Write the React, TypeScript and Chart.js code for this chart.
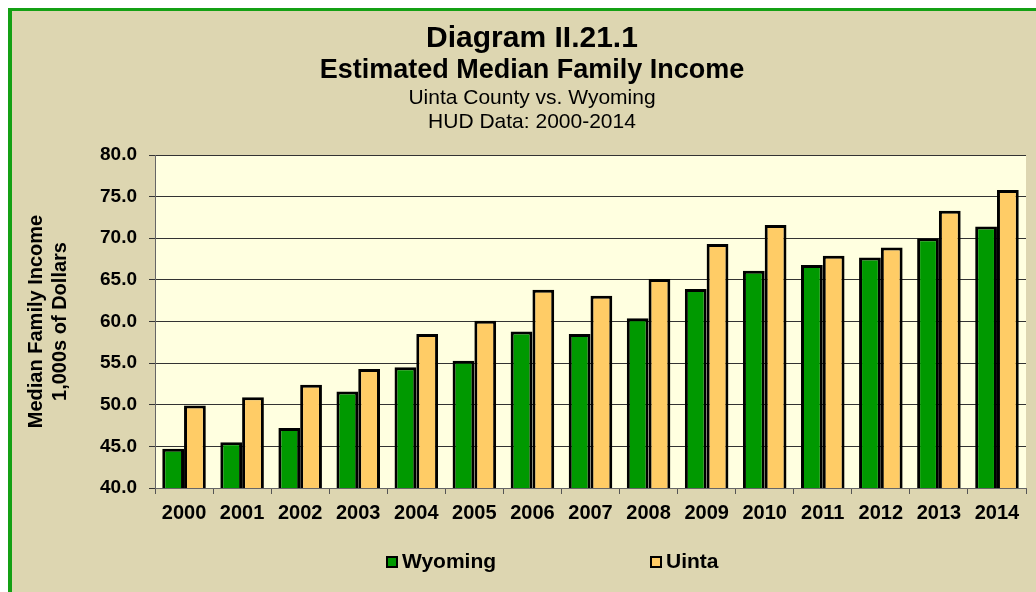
import React, { useEffect, useRef } from 'react';
import { Chart, registerables } from 'chart.js';

Chart.register(...registerables);

const years = ['2000', '2001', '2002', '2003', '2004', '2005', '2006', '2007', '2008', '2009', '2010', '2011', '2012', '2013', '2014'];
const wyoming = [44.7, 45.5, 47.2, 51.6, 54.5, 55.3, 58.8, 58.5, 60.4, 63.9, 66.1, 66.8, 67.7, 70.0, 71.4];
const uinta = [49.9, 50.9, 52.4, 54.3, 58.5, 60.1, 63.8, 63.1, 65.1, 69.3, 71.6, 67.9, 68.9, 73.3, 75.8];
const yMin = 40;
const yMax = 80;
const yStep = 5;
const titleMain = 'Diagram II.21.1';
const titleSub = 'Estimated Median Family Income';
const subLines = ['Uinta County vs. Wyoming', 'HUD Data: 2000-2014'];
const yTitle = ['Median Family Income', '1,000s of Dollars'];

const FONT = "'Liberation Sans', Arial, Helvetica, sans-serif";

const decor = {
  id: 'decor',
  beforeDraw(chart: any) {
    const { ctx, chartArea: a } = chart;
    ctx.save();
    ctx.fillStyle = '#FFFFE0';
    ctx.fillRect(a.left, a.top, a.right - a.left, a.bottom - a.top);
    ctx.restore();
  },
  afterDraw(chart: any) {
    const { ctx } = chart;
    const cx = 520;
    ctx.save();
    ctx.fillStyle = '#000';
    ctx.textAlign = 'center';
    ctx.textBaseline = 'alphabetic';
    ctx.font = `bold 30px ${FONT}`;
    ctx.fillText(titleMain, cx, 36);
    ctx.font = `bold 27px ${FONT}`;
    ctx.fillText(titleSub, cx, 67);
    ctx.font = `21px ${FONT}`;
    ctx.fillText(subLines[0], cx, 93);
    ctx.fillText(subLines[1], cx, 117);

    // legend
    const xs = [374, 638];
    ctx.textAlign = 'left';
    ctx.font = `bold 21px ${FONT}`;
    chart.data.datasets.forEach((ds: any, i: number) => {
      const x = xs[i];
      const y = 545;
      ctx.fillStyle = ds.backgroundColor;
      ctx.fillRect(x, y, 12, 12);
      ctx.strokeStyle = '#000';
      ctx.lineWidth = 2;
      ctx.strokeRect(x + 1, y + 1, 10, 10);
      ctx.fillStyle = '#000';
      ctx.fillText(ds.label, x + 16, 557);
    });
    ctx.restore();
  },
};

export default function App() {
  const ref = useRef<HTMLCanvasElement>(null);
  useEffect(() => {
    if (!ref.current) return;
    const chart = new Chart(ref.current, {
      type: 'bar',
      data: {
        labels: years,
        datasets: [
          { label: 'Wyoming', data: wyoming, backgroundColor: '#009900', borderColor: '#000', borderWidth: 3, borderSkipped: false },
          { label: 'Uinta', data: uinta, backgroundColor: '#FFCC66', borderColor: '#000', borderWidth: 3, borderSkipped: false },
        ],
      },
      options: {
        responsive: false,
        animation: false,
        layout: { padding: { top: 144, right: 10, left: 0, bottom: 44 } },
        datasets: { bar: { categoryPercentage: 0.75, barPercentage: 1 } },
        plugins: { legend: { display: false }, title: { display: false }, tooltip: { enabled: false } },
        scales: {
          x: {
            afterFit: (s: any) => { s.height = 60; },
            grid: { offset: true, drawOnChartArea: false, drawTicks: true, tickLength: 6, color: '#555', lineWidth: 1 },
            border: { display: true, color: '#666', width: 1 },
            ticks: { color: '#000', padding: 7, font: { family: FONT, size: 20, weight: 'bold' } },
          },
          y: {
            min: yMin,
            max: yMax,
            afterFit: (s: any) => { s.width = 143; },
            grid: { color: '#333', lineWidth: 1, tickLength: 6, drawTicks: true },
            border: { display: true, color: '#666', width: 1 },
            ticks: {
              stepSize: yStep,
              color: '#000',
              padding: 12,
              font: { family: FONT, size: 19, weight: 'bold' },
              callback: (v: any) => Number(v).toFixed(1),
            },
            title: {
              display: true,
              text: yTitle,
              color: '#000',
              padding: { top: 12, bottom: 0 },
              font: { family: FONT, size: 20, weight: 'bold', lineHeight: 1.2 },
            },
          },
        },
      },
      plugins: [decor],
    } as any);
    return () => chart.destroy();
  }, []);
  return (
    <div
      style={{
        position: 'fixed',
        left: 8,
        top: 8,
        width: 1028,
        height: 584,
        boxSizing: 'border-box',
        borderLeft: '4px solid #14A014',
        borderTop: '3px solid #14A014',
        background: '#DDD6B1',
        overflow: 'hidden',
      }}
    >
      <canvas ref={ref} width={1024} height={581} style={{ display: 'block', width: 1024, height: 581 }} />
    </div>
  );
}
